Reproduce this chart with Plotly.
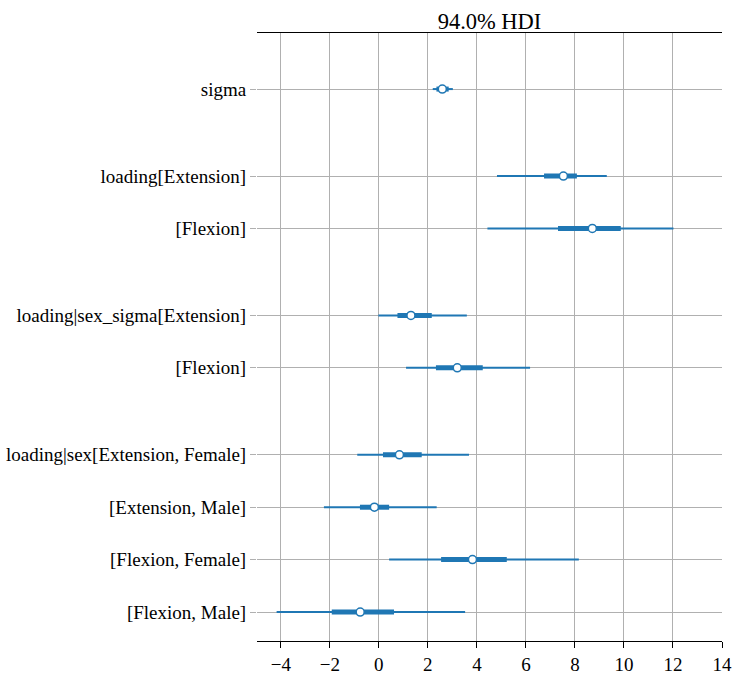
import plotly.graph_objects as go

# Variables grouped as in the forest plot (top to bottom)
group_labels = [
    ["sigma"],
    ["loading[Extension]", "[Flexion]"],
    ["loading|sex_sigma[Extension]", "[Flexion]"],
    ["loading|sex[Extension, Female]", "[Extension, Male]",
     "[Flexion, Female]", "[Flexion, Male]"],
]
hdi_low = [2.20, 4.82, 4.43, -0.02, 1.11, -0.88, -2.24, 0.42, -4.17]
hdi_high = [3.02, 9.30, 12.02, 3.59, 6.17, 3.68, 2.36, 8.16, 3.52]
q_low = [2.35, 6.74, 7.31, 0.76, 2.33, 0.17, -0.77, 2.54, -1.92]
q_high = [2.85, 8.08, 9.87, 2.16, 4.24, 1.75, 0.42, 5.22, 0.62]
median = [2.59, 7.53, 8.71, 1.31, 3.20, 0.84, -0.18, 3.82, -0.76]
x_ticks = [-4, -2, 0, 2, 4, 6, 8, 10, 12, 14]

GROUP_GAP = 0.66
BLUE = "#1f77b4"

# compute row positions (bottom row = 0), top-to-bottom order matching labels
labels = [l for g in group_labels for l in g]
ypos = []
y = 0.0
for gi, g in enumerate(reversed(group_labels)):
    if gi > 0:
        y += GROUP_GAP
    block = []
    for _ in g:
        block.append(y)
        y += 1
    ypos = list(reversed(block)) + ypos
n = len(labels)

thin_x, thin_y, thick_x, thick_y = [], [], [], []
for i in range(n):
    thin_x += [hdi_low[i], hdi_high[i], None]
    thin_y += [ypos[i], ypos[i], None]
    thick_x += [q_low[i], q_high[i], None]
    thick_y += [ypos[i], ypos[i], None]

fig = go.Figure()
fig.add_trace(go.Scatter(x=thin_x, y=thin_y, mode="lines",
                         line=dict(color=BLUE, width=2), hoverinfo="skip",
                         showlegend=False))
fig.add_trace(go.Scatter(x=thick_x, y=thick_y, mode="lines",
                         line=dict(color=BLUE, width=5), hoverinfo="skip",
                         showlegend=False))
fig.add_trace(go.Scatter(x=median, y=ypos, mode="markers",
                         marker=dict(color="white", size=8,
                                     line=dict(color=BLUE, width=1.5)),
                         showlegend=False))

font = "Times New Roman, Liberation Serif, Tinos, serif"
fig.update_layout(
    width=742, height=679,
    margin=dict(l=257, r=20, t=33, b=38),
    paper_bgcolor="white", plot_bgcolor="white",
    font=dict(family=font, size=19, color="black"),
    title=dict(text="94.0% HDI", x=0.5, xref="paper", xanchor="center",
               y=1, yref="paper", yanchor="bottom", pad=dict(b=4),
               font=dict(family=font, size=22.5, color="black")),
    xaxis=dict(range=[-4.97, 14], tickvals=x_ticks,
               ticktext=[("\u2212" + str(-v)) if v < 0 else str(v) for v in x_ticks],
               showgrid=True, gridcolor="#b0b0b0", gridwidth=1,
               showline=True, linecolor="black", linewidth=1.2, mirror=True,
               ticks="outside", ticklen=6, tickcolor="black", automargin=False,
               zeroline=False, tickfont=dict(family=font, size=19, color="black")),
    yaxis=dict(range=[-0.553, 11.05], tickvals=ypos, ticktext=labels,
               showgrid=True, gridcolor="#b0b0b0", gridwidth=1,
               showline=False, zeroline=False, automargin=False,
               ticks="outside", ticklen=6, tickcolor="#b0b0b0",
               tickfont=dict(family=font, size=19, color="black")),
)

fig.write_html("out.html", config={"displayModeBar": False},
               post_script="document.body.style.margin='0';"
                           "document.body.style.overflow='hidden';")
